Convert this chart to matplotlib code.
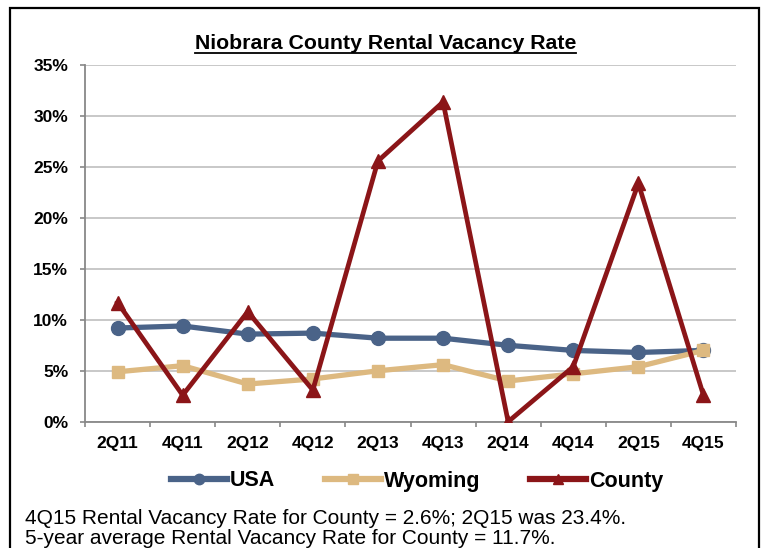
import matplotlib
matplotlib.use("Agg")
from matplotlib import pyplot as plt
from matplotlib.lines import Line2D
from matplotlib.patches import Rectangle

quarters = ["2Q11", "4Q11", "2Q12", "4Q12", "2Q13", "4Q13", "2Q14", "4Q14", "2Q15", "4Q15"]
usa = [9.2, 9.4, 8.6, 8.7, 8.2, 8.2, 7.5, 7.0, 6.8, 7.0]
wyoming = [4.9, 5.5, 3.7, 4.2, 5.0, 5.6, 4.0, 4.7, 5.4, 7.0]
county = [11.7, 2.6, 10.8, 3.1, 25.6, 31.4, 0.0, 5.4, 23.4, 2.6]
yticks = [0, 5, 10, 15, 20, 25, 30, 35]

title = "Niobrara County Rental Vacancy Rate"
note1 = "4Q15 Rental Vacancy Rate for County = 2.6%; 2Q15 was 23.4%."
note2 = "5-year average Rental Vacancy Rate for County = 11.7%."

plt.rcParams['font.family'] = ['Liberation Sans', 'DejaVu Sans']

W, H = 764, 548
fig = plt.figure(figsize=(W / 100, H / 100), dpi=100)
ax = fig.add_axes([85 / W, 1 - 421.7 / H, (736 - 85) / W, (421.7 - 65.3) / H])

x = list(range(len(quarters)))
ax.plot(x, usa, color='#4A6388', lw=3.8, marker='o', ms=10, label='USA', zorder=3)
ax.plot(x, wyoming, color='#DDB980', lw=3.8, marker='s', ms=9, label='Wyoming', zorder=4)
ax.plot(x, county, color='#8B1518', lw=3.4, marker='^', ms=10.5, label='County', zorder=5)

ax.set_xlim(-0.5, len(quarters) - 0.5)
ax.set_ylim(0, 35)
ax.set_yticks(yticks)
ax.set_yticklabels([f"{v}%" for v in yticks], fontsize=12.5, fontweight='bold')
ax.set_xticks(x)
ax.set_xticklabels(quarters, fontsize=12.5, fontweight='bold')
ax.set_xticks([i - 0.5 for i in range(len(quarters) + 1)], minor=True)
ax.tick_params(axis='x', which='major', length=0, pad=10)
ax.tick_params(axis='x', which='minor', length=3.5, width=1.2, color='#888888')
ax.tick_params(axis='y', length=3.6, width=1.2, color='#888888', pad=8.5)

ax.grid(axis='y', color='#c4c4c4', lw=1.3)
ax.set_axisbelow(True)
for s in ['top', 'right']:
    ax.spines[s].set_visible(False)
for s in ['left', 'bottom']:
    ax.spines[s].set_color('#888888')
    ax.spines[s].set_linewidth(1.3)

leg = fig.legend(loc='center', bbox_to_anchor=(417 / W, 1 - 481 / H), ncol=3, frameon=False,
                 prop={'size': 15.5, 'weight': 'bold'}, handlelength=2.6, handletextpad=0.15,
                 columnspacing=2.3, markerscale=0.75)
for h in leg.legend_handles:
    h.set_linewidth(4.5)

t = fig.text(385.5 / W, 1 - 49 / H, title, ha='center', va='baseline', fontsize=15.3, fontweight='bold')

# two note lines under the legend
fig.text(25 / W, 1 - 524 / H, note1, ha='left', va='baseline', fontsize=15)
fig.text(25 / W, 1 - 544.5 / H, note2, ha='left', va='baseline', fontsize=15)

# black frame round the chart, open at the bottom
fig.add_artist(Rectangle((10 / W, -0.05), (759 - 10) / W, 1.05 - 8 / H, transform=fig.transFigure,
                         fill=False, edgecolor='black', lw=1.6))

# underline the title
fig.canvas.draw()
bb = t.get_window_extent()
uy = 1 - 52.5 / H
fig.add_artist(Line2D([bb.x0 / W, bb.x1 / W], [uy, uy], transform=fig.transFigure, color='black', lw=1.3))

fig.savefig("out.png", dpi=100)
